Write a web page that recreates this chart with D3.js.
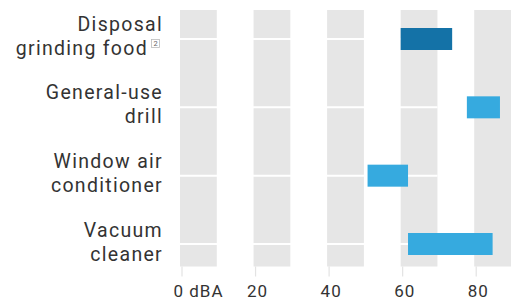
<!DOCTYPE html>
<html>
<head>
<meta charset="utf-8">
<script src="https://cdn.jsdelivr.net/npm/d3@7"></script>
<style>
  html, body { margin: 0; padding: 0; background: #fff; }
  svg { display: block; }
  text { font-family: Roboto, "Noto Sans", sans-serif; fill: #333; }
</style>
</head>
<body>
<svg id="chart" width="511" height="306"></svg>
<script>
// ---- data ----
const categories = ["Disposal grinding food", "General-use drill", "Window air conditioner", "Vacuum cleaner"];
const labelLines = [["Disposal", "grinding food"], ["General-use", "drill"], ["Window air", "conditioner"], ["Vacuum", "cleaner"]];
const lowValues = [60, 78, 51, 62];
const highValues = [74, 87, 62, 85];
const highlighted = [true, false, false, false];
const tickValues = [0, 20, 40, 60, 80];
const tickLabels = ["0 dBA", "20", "40", "60", "80"];
const footnoteMark = "2";

// ---- layout ----
const svg = d3.select("#chart");
const x = d3.scaleLinear().domain([0, 90]).range([180, 511]);
const y = d3.scalePoint().domain(categories).range([39, 244]);
const bandTop = 10, bandBottom = 266.5;
const barH = 22;

// alternating shaded columns (every other 10 dBA)
svg.append("g").selectAll("rect")
  .data(tickValues)
  .join("rect")
  .attr("x", d => x(d))
  .attr("y", bandTop)
  .attr("width", d => x(d + 10) - x(d))
  .attr("height", bandBottom - bandTop)
  .attr("fill", "#e6e6e6");

// white row lines
svg.append("g").selectAll("line")
  .data(categories)
  .join("line")
  .attr("x1", x(0)).attr("x2", x(70))
  .attr("y1", d => y(d)).attr("y2", d => y(d))
  .attr("stroke", "#fff").attr("stroke-width", 2);

// bottom axis
const axis = d3.axisBottom(x)
  .tickValues(tickValues)
  .tickFormat((d, i) => tickLabels[i])
  .tickSize(10)
  .tickPadding(8);
const ag = svg.append("g").attr("transform", `translate(0,${bandBottom})`).call(axis);
ag.select(".domain").remove();
ag.selectAll(".tick line").attr("stroke", "#e3e3e3").attr("stroke-width", 1.2).attr("transform", "translate(1.5,0)");
ag.selectAll(".tick text")
  .attr("text-anchor", "start")
  .attr("dx", -7)
  .attr("fill", "#333")
  .style("font-family", "Roboto, sans-serif")
  .style("font-size", "17px")
  .style("letter-spacing", "1px");

// bars
svg.append("g").selectAll("rect")
  .data(categories)
  .join("rect")
  .attr("x", (d, i) => x(lowValues[i]))
  .attr("y", d => y(d) - barH / 2)
  .attr("width", (d, i) => x(highValues[i]) - x(lowValues[i]))
  .attr("height", barH)
  .attr("fill", (d, i) => highlighted[i] ? "#1472a7" : "#36aadf");

// category labels
const lg = svg.append("g");
categories.forEach((c, i) => {
  const lines = labelLines[i];
  const cy = y(c);
  lines.forEach((ln, j) => {
    const hasNote = (i === 0 && j === 1);
    lg.append("text")
      .attr("x", hasNote ? 148 : 163)
      .attr("y", cy + (j === 0 ? -8.5 : 15.5) + i * 0.6)
      .attr("text-anchor", "end")
      .style("font-size", "19.5px")
      .style("letter-spacing", "1.3px")
      .text(ln);
    if (hasNote) {
      const by = cy + 0.5;
      lg.append("rect")
        .attr("x", 151.5).attr("y", by)
        .attr("width", 8).attr("height", 8)
        .attr("fill", "#fff").attr("stroke", "#bbb").attr("stroke-width", 0.8);
      lg.append("text")
        .attr("x", 155.5).attr("y", by + 6.8)
        .attr("text-anchor", "middle")
        .style("font-size", "7.5px")
        .style("fill", "#666")
        .text(footnoteMark);
    }
  });
});
</script>
</body>
</html>
